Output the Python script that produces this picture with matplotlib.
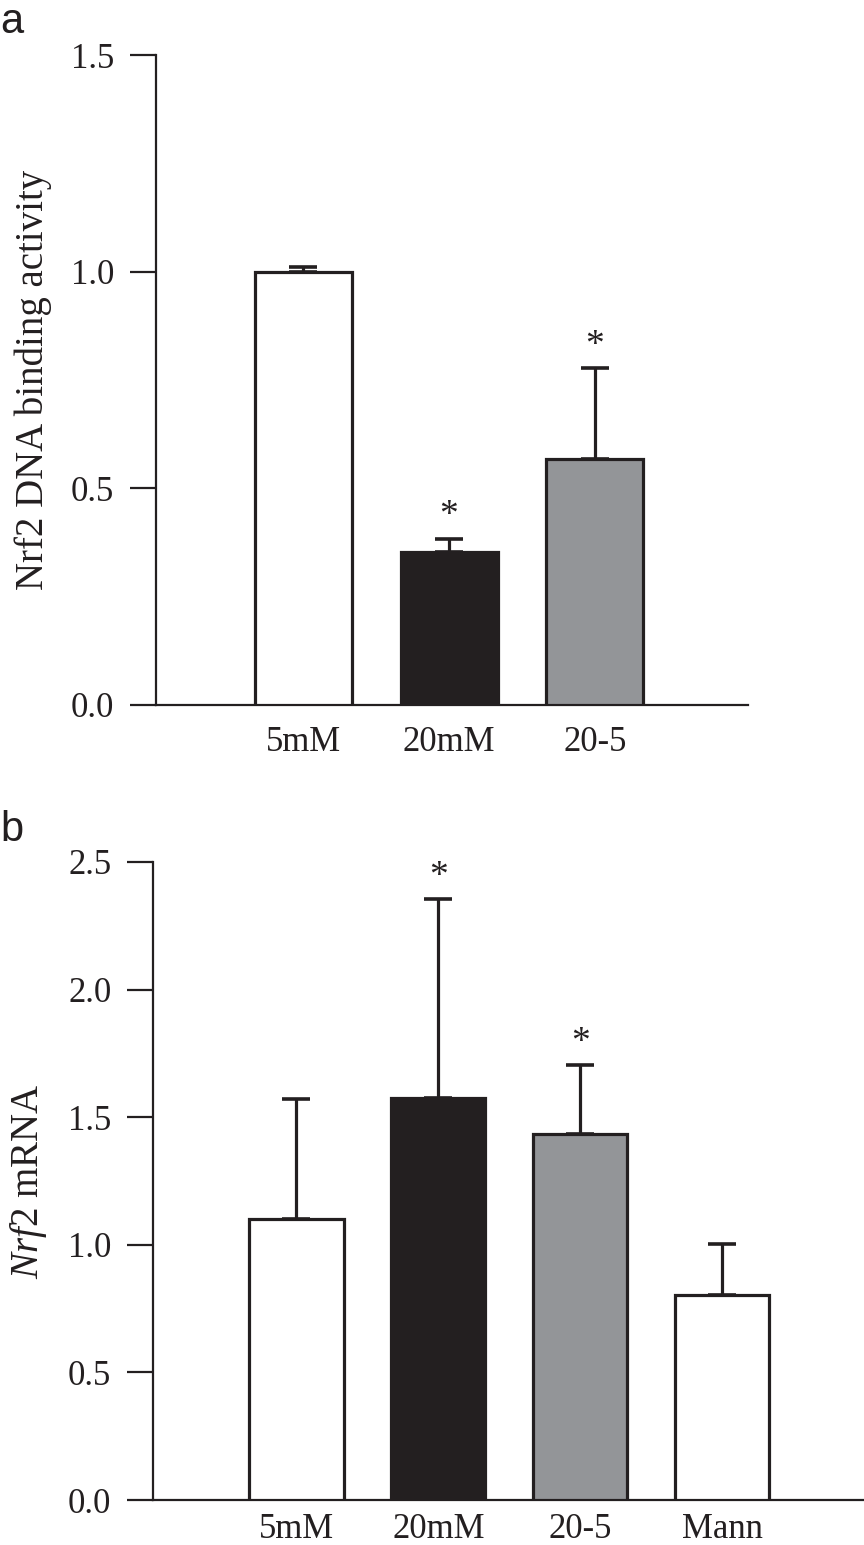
import matplotlib
matplotlib.use("Agg")
import matplotlib.pyplot as plt
import numpy as np

## data ##

groups_a = ["5mM", "20mM", "20-5"]
means_a = [1.00, 0.353, 0.567]
errs_a = [0.011, 0.030, 0.210]
stars_a = [False, True, True]

groups_b = ["5mM", "20mM", "20-5", "Mann"]
means_b = [1.103, 1.575, 1.433, 0.804]
errs_b = [0.469, 0.778, 0.270, 0.200]
stars_b = [False, True, True, False]

## style ##

INK = "#231f20"
FILLS = {"5mM": "white", "20mM": "#231f20", "20-5": "#939598", "Mann": "white"}

plt.rcParams["font.family"] = ["Liberation Serif", "DejaVu Serif"]
plt.rcParams["mathtext.fontset"] = "custom"
plt.rcParams["mathtext.rm"] = "Liberation Serif"
plt.rcParams["mathtext.it"] = "Liberation Serif:italic"
plt.rcParams["text.color"] = INK


def draw_panel(ax, groups, means, errs, stars, ylim, yticks, ylabel, xlim, xpad):
    x = np.arange(len(groups))
    ax.bar(x, means, width=0.665, color=[FILLS[g] for g in groups],
           edgecolor=INK, linewidth=2.3, zorder=3)
    ax.errorbar(x, means, yerr=(np.zeros(len(errs)), errs), fmt="none",
                ecolor=INK, elinewidth=2.3, capsize=10, capthick=2.6, zorder=2)
    for xi, m, e, s in zip(x, means, errs, stars):
        if s:
            ax.annotate("*", (xi, m + e), xytext=(0, 4), textcoords="offset points",
                        ha="center", va="bottom", fontsize=27, color=INK)
    ax.set_xlim(*xlim)
    ax.set_ylim(*ylim)
    ax.set_yticks(yticks)
    ax.set_yticklabels(["%.1f" % t for t in yticks])
    ax.set_xticks(x)
    ax.set_xticklabels(groups)
    ax.spines["top"].set_visible(False)
    ax.spines["right"].set_visible(False)
    for sp in ("left", "bottom"):
        ax.spines[sp].set_linewidth(1.6)
        ax.spines[sp].set_color(INK)
    ax.tick_params(axis="y", direction="out", length=19, width=1.6, color=INK,
                   labelsize=25, pad=11, labelcolor=INK)
    ax.tick_params(axis="x", length=0, labelsize=25, pad=xpad, labelcolor=INK)
    ax.set_ylabel(ylabel, fontsize=28, color=INK, labelpad=14)


fig = plt.figure(figsize=(8.64, 15.45), dpi=100)

ax_a = fig.add_axes([0.1806, 0.5437, 0.685, 0.4207])
draw_panel(ax_a, groups_a, means_a, errs_a, stars_a, (0, 1.5),
           [0.0, 0.5, 1.0, 1.5], "Nrf2 DNA binding activity", (-1.01, 3.05), 15)

ax_b = fig.add_axes([0.1771, 0.0291, 0.8229, 0.413])
draw_panel(ax_b, groups_b, means_b, errs_b, stars_b, (0, 2.5),
           [0.0, 0.5, 1.0, 1.5, 2.0, 2.5], r"$\mathit{Nrf2}$ mRNA", (-1.01, 4.0), 9)

fig.text(0.0, 0.999, "a", family=["Liberation Sans", "DejaVu Sans"], fontsize=30,
         ha="left", va="top", color=INK)
fig.text(0.0, 0.476, "b", family=["Liberation Sans", "DejaVu Sans"], fontsize=30,
         ha="left", va="top", color=INK)

fig.savefig("out.png", dpi=100, facecolor="white")
